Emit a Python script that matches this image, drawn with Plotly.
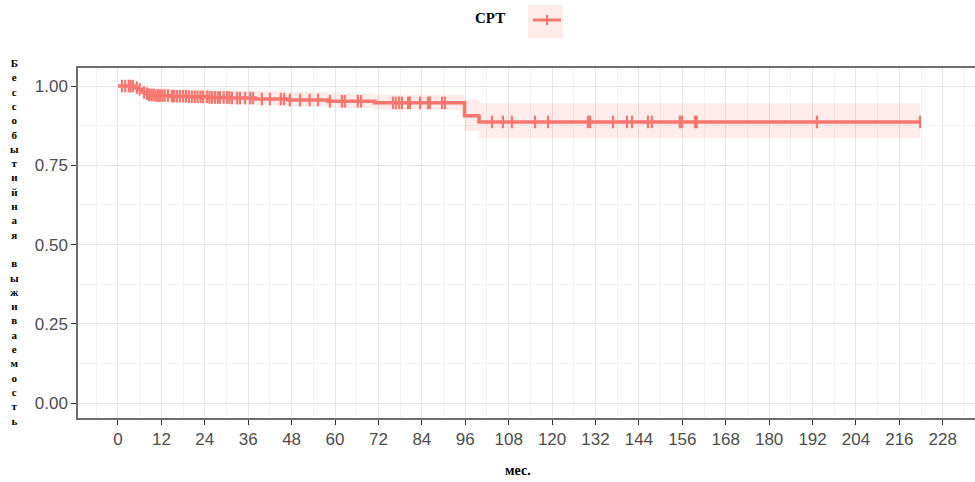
import numpy as np
import plotly.graph_objects as go

# ---- data ----
event_times = [4.5, 5.5, 6.5, 7.0, 7.5, 8.5, 10, 14, 19, 25, 31, 38, 47, 58, 71, 95.8, 99.8]
surv_after = [0.995, 0.990, 0.985, 0.980, 0.976, 0.972, 0.970, 0.968, 0.966, 0.964, 0.962,
              0.959, 0.956, 0.952, 0.947, 0.906, 0.887]
upper_after = [1.000, 1.000, 0.999, 0.997, 0.995, 0.993, 0.992, 0.990, 0.989, 0.987, 0.986,
               0.984, 0.981, 0.978, 0.973, 0.958, 0.946]
lower_after = [0.988, 0.981, 0.975, 0.969, 0.964, 0.959, 0.956, 0.953, 0.950, 0.947, 0.944,
               0.940, 0.936, 0.931, 0.925, 0.858, 0.836]
last_time = 221.7

censor_times = [1.1, 2.0, 3.0, 3.5, 4.1, 5.2, 6.0, 7.2, 8.0, 8.6, 9.2, 9.8, 10.4, 11.0, 11.6,
                12.3, 12.9, 13.8, 14.9, 15.5, 16.3, 17.1, 18.0, 18.8, 19.6, 20.4, 21.2, 22.0,
                22.8, 23.5, 24.6, 25.3, 26.0, 26.8, 27.6, 28.2, 29.2, 30.1, 30.8, 31.5, 32.9,
                33.7, 35.1, 36.5, 37.3, 39.8, 42.0, 45.0, 45.9, 47.5, 50.3, 53.0, 55.3, 58.6,
                61.9, 62.7, 66.3, 67.2, 76.0, 76.8, 77.7, 78.5, 80.2, 80.7, 83.5, 85.7, 86.2,
                89.6, 90.4, 103.4, 106.4, 108.9, 115.3, 118.9, 129.9, 130.5, 136.8, 140.7,
                142.1, 146.5, 147.6, 155.3, 155.9, 159.5, 160.0, 193.2, 221.7]

x_ticks = list(range(0, 229, 12))
y_ticks = [0.0, 0.25, 0.5, 0.75, 1.0]
group_label = "СРТ"
x_title = "мес."
y_title = "Бессобытийная выживаемость"

# ---- build step arrays ----
t = [0.0] + event_times + [last_time]
s = [1.0] + surv_after + [surv_after[-1]]
up = [1.0] + upper_after + [upper_after[-1]]
lo = [1.0] + lower_after + [lower_after[-1]]

idx = np.searchsorted(np.array(t[:-1]), np.array(censor_times), side="right") - 1
censor_surv = [s[i] for i in idx]

RED = "#F8766D"
fig = go.Figure()
fig.add_trace(go.Scatter(x=t, y=lo, mode="lines", line=dict(width=0, shape="hv"),
                         showlegend=False, hoverinfo="skip"))
fig.add_trace(go.Scatter(x=t, y=up, mode="lines", line=dict(width=0, shape="hv"),
                         fill="tonexty", fillcolor="rgba(248,118,109,0.14)",
                         showlegend=False, hoverinfo="skip"))
fig.add_trace(go.Scatter(x=t, y=s, mode="lines", line=dict(color=RED, width=3.5, shape="hv"),
                         showlegend=False))
fig.add_trace(go.Scatter(x=censor_times, y=censor_surv, mode="markers",
                         marker=dict(symbol="line-ns", size=9,
                                     line=dict(color=RED, width=2.2)),
                         showlegend=False))

axis_common = dict(
    showgrid=True, gridcolor="#E6E6E6", gridwidth=1,
    zeroline=False,
    ticks="outside", ticklen=5, tickwidth=1.2, tickcolor="#333333",
    tickfont=dict(family="Liberation Sans, Arial", size=17, color="#4D4D4D"),
    showline=True, linecolor="#6E6E6E", linewidth=1.5,
)

fig.update_layout(
    width=975, height=482,
    margin=dict(l=78, r=0, t=68, b=64),
    paper_bgcolor="white", plot_bgcolor="white",
    xaxis=dict(range=[-11.05, 236.9], tickvals=x_ticks, mirror=True,
               minor=dict(dtick=6, tick0=0, showgrid=True, gridcolor="#F3F3F3", gridwidth=1),
               **axis_common),
    yaxis=dict(range=[-0.047, 1.057], tickvals=y_ticks, tickformat=".2f",
               minor=dict(dtick=0.125, tick0=0, showgrid=True, gridcolor="#F3F3F3", gridwidth=1),
               **axis_common),
    showlegend=False,
)

# axis titles
fig.add_annotation(text="<b>" + x_title + "</b>", xref="paper", yref="paper",
                   x=(518 - 78) / 897, y=-(470 - 418) / 350, showarrow=False,
                   xanchor="center", yanchor="middle",
                   font=dict(family="Liberation Serif", size=14, color="black"))
fig.add_annotation(text="<b>" + "<br>".join(list(y_title)) + "</b>", xref="paper", yref="paper",
                   x=-(78 - 14) / 897, y=(418 - 242) / 350, showarrow=False, align="center",
                   xanchor="center", yanchor="middle",
                   font=dict(family="Liberation Serif", size=11, color="black"))

# legend (manual)
fig.add_annotation(text="<b>" + group_label + "</b>", xref="paper", yref="paper",
                   x=(490 - 78) / 897, y=1 + (68 - 18) / 350, showarrow=False,
                   xanchor="center", yanchor="middle",
                   font=dict(family="Liberation Serif", size=15, color="black"))
fig.add_shape(type="rect", xref="paper", yref="paper",
              x0=(528 - 78) / 897, x1=(563 - 78) / 897,
              y0=1 + (68 - 38) / 350, y1=1 + (68 - 5) / 350,
              fillcolor="rgba(248,118,109,0.14)", line=dict(width=0))
fig.add_shape(type="line", xref="paper", yref="paper",
              x0=(533 - 78) / 897, x1=(561 - 78) / 897,
              y0=1 + (68 - 20) / 350, y1=1 + (68 - 20) / 350,
              line=dict(color=RED, width=3))
fig.add_shape(type="line", xref="paper", yref="paper",
              x0=(547 - 78) / 897, x1=(547 - 78) / 897,
              y0=1 + (68 - 15) / 350, y1=1 + (68 - 25) / 350,
              line=dict(color=RED, width=2))

fig.write_html("out.html")
